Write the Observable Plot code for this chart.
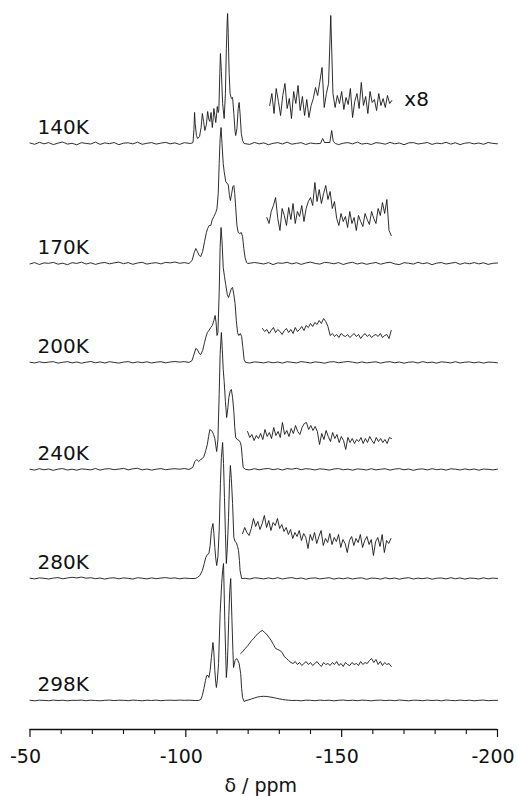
<!DOCTYPE html>
<html><head><meta charset="utf-8">
<script src="https://cdn.jsdelivr.net/npm/d3@7"></script>
<script src="https://cdn.jsdelivr.net/npm/@observablehq/plot@0.6"></script>
<style>body{margin:0;background:#fff} svg{display:block}</style>
</head><body><div id="chart"></div>
<script>
// Temperatures and stacking offsets (intensity units above the axis)
const temps = ["140K","170K","200K","240K","280K","298K"];
const offsets = [586, 466, 367, 260, 151, 29];
const majorTicks = [-50, -100, -150, -200];
const minorTicks = [-60, -70, -80, -90, -110, -120, -130, -140, -160, -170, -180, -190];
const axisLabel = "δ / ppm";
const gainLabel = "x8";

// Main resonance region, [ppm, intensity]
const peaks140 = [[-101.6,0],[-102.3,1],[-102.6,14],[-102.8,31],[-103.0,20],[-103.4,8],[-103.8,5],[-104.4,7],[-104.9,16],[-105.3,30],[-105.7,22],[-106.1,13],[-106.6,19],[-107.0,32],[-107.4,24],[-107.7,22],[-108.1,31],[-108.5,16],[-108.8,26],[-109.0,35],[-109.3,28],[-109.6,21],[-109.9,30],[-110.1,37],[-110.4,31],[-110.6,34],[-110.9,70],[-111.1,90],[-111.4,72],[-111.8,40],[-112.3,25],[-112.7,50],[-113.0,95],[-113.3,125],[-113.4,130],[-113.6,110],[-113.9,70],[-114.2,50],[-114.6,45],[-115.0,46],[-115.4,30],[-115.8,12],[-116.0,8],[-116.4,15],[-116.8,35],[-117.1,41],[-117.4,30],[-117.8,10],[-118.2,3],[-118.7,0]];
const extra140 = [[-143.2,0],[-143.9,5],[-144.5,1],[-146.2,1],[-146.8,13],[-147.3,2],[-148,0]];
const peaks170 = [[-101.0,0],[-102.0,3],[-102.7,11],[-103.2,15],[-103.7,12],[-104.3,8],[-104.8,7],[-105.4,12],[-106.0,22],[-106.6,31],[-107.0,35],[-107.5,38],[-108.0,38],[-108.5,44],[-109.0,47],[-109.6,51],[-110.0,55],[-110.4,70],[-110.7,100],[-111.0,125],[-111.3,136],[-111.6,120],[-112.0,100],[-112.3,92],[-112.8,82],[-113.2,80],[-113.6,79],[-114.0,68],[-114.3,63],[-114.7,70],[-115.1,77],[-115.4,78],[-115.7,70],[-116.0,56],[-116.4,38],[-116.8,31],[-117.3,30],[-117.8,31],[-118.2,27],[-118.6,15],[-119.0,6],[-119.5,1],[-119.9,0]];
const peaks200 = [[-101.0,0],[-102.0,2],[-102.6,8],[-103.2,14],[-103.7,13],[-104.3,9],[-104.8,8],[-105.4,12],[-106.0,20],[-106.4,25],[-106.9,30],[-107.4,32],[-108.0,35],[-108.5,37],[-109.0,42],[-109.4,47],[-109.7,40],[-110.0,27],[-110.3,30],[-110.7,70],[-111.0,115],[-111.3,135],[-111.6,122],[-112.0,95],[-112.4,86],[-112.8,78],[-113.3,68],[-113.7,65],[-114.2,70],[-114.6,74],[-115.0,75],[-115.4,68],[-115.8,59],[-116.2,42],[-116.6,30],[-117.0,27],[-117.5,29],[-117.9,26],[-118.3,15],[-118.7,3],[-119.2,0]];
const peaks240 = [[-101.0,0],[-102.2,2],[-102.9,8],[-103.5,10],[-104.1,8],[-104.8,10],[-105.3,11],[-105.8,13],[-106.4,19],[-106.9,25],[-107.3,33],[-107.7,40],[-108.1,39],[-108.5,38],[-108.9,35],[-109.3,31],[-109.6,24],[-109.9,18],[-110.3,30],[-110.7,75],[-111.0,115],[-111.4,137],[-111.7,120],[-112.0,100],[-112.3,88],[-112.7,68],[-113.1,52],[-113.5,62],[-113.8,72],[-114.2,78],[-114.6,80],[-115.0,72],[-115.4,58],[-115.7,42],[-116.0,32],[-116.5,30],[-117.1,29],[-117.5,27],[-117.8,23],[-118.1,12],[-118.4,2],[-119.2,0]];
const peaks280 = [[-101.5,0],[-103.0,0],[-103.7,1],[-104.5,3],[-105.3,8],[-105.9,15],[-106.4,21],[-106.9,24],[-107.4,25],[-107.8,33],[-108.2,48],[-108.7,55],[-109.0,45],[-109.3,31],[-109.6,20],[-109.9,13],[-110.3,22],[-110.7,48],[-111.1,95],[-111.4,121],[-111.8,136],[-112.1,115],[-112.4,81],[-112.7,45],[-113.0,15],[-113.3,30],[-113.7,61],[-114.0,95],[-114.3,113],[-114.6,100],[-115.0,75],[-115.4,41],[-115.8,37],[-116.2,36],[-116.6,32],[-116.9,28],[-117.2,18],[-117.4,8],[-117.9,0]];
const peaks298 = [[-103.0,0],[-104.0,0],[-104.8,1],[-105.3,5],[-105.8,12],[-106.3,20],[-106.7,25],[-107.1,25],[-107.4,23],[-107.8,30],[-108.2,43],[-108.7,58],[-109.0,48],[-109.3,30],[-109.6,18],[-109.8,13],[-110.1,20],[-110.5,37],[-111.0,87],[-111.5,117],[-111.8,130],[-112.1,137],[-112.5,80],[-112.8,45],[-113.0,23],[-113.3,35],[-113.5,53],[-113.8,85],[-114.1,110],[-114.4,122],[-114.8,80],[-115.1,50],[-115.3,33],[-115.8,40],[-116.3,42],[-116.7,40],[-117.1,37],[-117.6,27],[-117.9,12],[-118.2,3],[-118.7,-1],[-119.3,0],[-120,0.5],[-121,1.5],[-122,2.5],[-123,3.5],[-124,4],[-125,4.2],[-126,4],[-127,3.5],[-128,3],[-129,2.3],[-130,1.6],[-131,1],[-132,0.6],[-133,0.3],[-134,0]];

// Baseline noise, sampled every 1.5 ppm: left from -50, right from -119
const noiseStep = 1.5, leftStart = -50, rightStart = -119;
const left140 = [0.5,-0.8,1.2,-0.3,0.9,-1.1,0.4,1.5,-0.6,0.2,-1.3,0.8,0.1,-0.5,1.4,-0.9,0.6,-0.2,1.0,-1.2,0.3,0.7,-0.4,1.3,-0.8,0.2,0.9,-0.6,0.4,1.1,-0.3,0.6,-0.9,0.8,0.2];
const right140 = [0.3,-0.9,1.1,-0.4,0.6,-1.2,0.2,0.9,-0.5,1.3,-0.7,0.1,0.8,-1.0,0.5,-0.2,1.2,-0.8,0.4,0.7,-1.1,0.3,0.9,-0.4,1.4,-0.6,0.2,-1.0,0.8,0.3,-0.7,1.1,-0.3,0.5,-1.2,0.6,0.9,-0.5,0.2,1.0,-0.9,0.4,-0.2,1.2,-0.6,0.7,-1.1,0.3,0.8,-0.4,0.5,-0.8,1.0,0.1,-0.3];
const left170 = [-0.4,0.9,-1.0,0.6,0.2,1.1,-0.7,0.3,-1.2,0.8,0.1,1.3,-0.5,0.7,-0.9,0.4,1.0,-0.3,0.6,1.4,-0.2,0.9,-0.8,0.5,1.2,-0.6,0.3,0.8,-0.4,1.1,0.6,1.5,0.2,0.9,1.8];
const right170 = [0.4,-0.8,1.0,0.3,-0.5,0.9,-1.1,0.6,0.2,1.2,-0.4,0.8,-0.9,0.5,1.4,0.1,-0.6,1.1,0.7,-0.3,0.9,-1.0,0.4,1.2,-0.5,0.6,-0.8,0.2,1.0,-0.7,0.5,1.3,-0.4,-1.1,0.8,0.3,-0.6,1.2,-0.2,0.7,-1.2,0.4,0.9,-0.5,0.3,1.1,-0.8,0.6,-0.3,0.9,-0.4,0.7,-0.9,0.2,0.5];
const left200 = [0.3,-0.5,0.7,-0.2,0.4,0.8,-0.6,0.2,0.9,-0.4,0.5,-0.7,0.3,1.0,-0.3,0.6,-0.5,0.8,0.1,-0.6,0.4,0.9,-0.4,0.6,-0.2,0.7,-0.5,0.3,0.8,-0.3,0.5,1.0,0.4,0.9,1.3];
const right200 = [0.4,-0.5,0.6,0.2,-0.4,0.7,-0.3,0.5,-0.6,0.8,0.2,-0.4,0.9,0.3,-0.5,0.6,0.1,-0.7,0.5,0.8,-0.3,0.4,1.0,0.3,-0.5,0.6,-0.4,0.2,0.7,-0.6,0.4,0.8,-0.3,0.5,-0.7,0.3,0.6,-0.5,0.9,-0.2,0.4,-0.6,0.7,0.2,-0.4,0.8,-0.5,0.3,0.6,-0.3,0.5,-0.6,0.4,0.2,-0.3];
const left240 = [0.2,-0.6,0.8,-0.3,0.5,-0.8,0.4,0.9,-0.5,0.3,-0.7,0.6,0.2,-0.4,1.0,-0.6,0.5,0.8,-0.2,0.4,1.1,-0.3,0.7,1.2,-0.4,0.5,-0.6,0.3,0.9,-0.2,0.4,0.8,0.3,1.0,1.5];
const right240 = [0.5,-0.4,0.8,-0.3,0.6,1.0,-0.2,0.7,-0.5,0.9,0.3,1.2,-0.2,0.8,0.4,-0.5,0.7,0.2,-0.6,0.5,0.9,-0.3,0.4,-0.7,0.6,0.2,-0.5,0.8,-0.4,0.3,0.7,-0.6,0.4,0.9,-0.3,0.5,-0.8,0.3,0.6,-0.4,0.8,-0.2,0.4,-0.6,0.7,0.3,-0.5,0.6,-0.3,0.5,-0.7,0.4,0.2,-0.4,0.3];
const left280 = [0.3,-0.4,0.6,0.2,-0.5,0.4,0.9,-0.3,0.5,1.2,0.6,1.4,0.3,0.8,-0.2,0.5,-0.6,0.4,0.7,-0.3,0.6,0.2,-0.5,0.8,0.3,-0.4,0.6,-0.2,0.5,0.9,0.2,0.6,-0.3,0.4,0.8];
const right280 = [0.2,-0.5,0.7,0.3,-0.4,0.6,-0.3,0.8,-0.5,0.4,0.9,-0.2,0.5,-0.7,0.3,0.6,-0.4,0.2,0.8,-0.6,0.4,-0.3,0.7,-0.5,0.3,0.6,-0.8,0.4,0.2,-0.6,0.7,-0.3,0.5,-0.7,0.3,0.8,-0.5,0.4,-0.2,0.6,-0.7,0.3,0.5,-0.4,0.8,-0.3,0.6,-0.6,0.4,0.2,-0.5,0.7,-0.3,0.4,0.1];
const left298 = [0.2,-0.3,0.3,0.1,-0.2,0.4,-0.1,0.3,-0.3,0.2,0.1,0.4,-0.2,0.3,0.0,-0.3,0.2,0.4,-0.1,0.3,0.2,-0.2,0.4,0.1,-0.3,0.3,0.0,0.4,-0.2,0.2,0.3,0.1,0.4,0.2,0.3];
const right298 = [0.3,-0.2,0.4,0.1,-0.3,0.2,0.4,-0.2,0.3,-0.1,0.4,0.1,-0.3,0.3,0.2,-0.2,0.4,0.0,0.3,-0.3,0.2,0.5,-0.1,0.3,-0.2,0.4,0.1,-0.3,0.2,0.4,-0.1,0.3,-0.2,0.5,0.1,-0.3,0.3,0.2,-0.2,0.4,0.0,0.3,-0.3,0.5,0.1,-0.2,0.4,-0.1,0.3,-0.3,0.2,0.4,-0.2,0.1,0.2];

// x8 expanded insets, sampled every 0.7 ppm from insetStart
const insetStep = 0.7;
const insetStart = [-126.9, -126.0, -124.6, -119.8, -118.2, -117.6];
const inset140 = [38,50,30,55,42,28,48,60,35,45,25,52,40,58,33,47,28,44,26,38,45,56,48,62,76,36,50,60,128,50,36,48,40,52,34,46,39,55,26,42,50,35,61,38,47,30,52,41,44,33,50,38,45,36,48,40,43];
const inset170 = [46,40,52,58,66,45,33,55,48,38,56,44,60,40,52,47,58,42,55,62,66,58,81,62,74,60,70,78,64,72,55,62,45,38,50,42,47,36,52,40,46,33,48,42,37,50,44,39,52,45,40,55,48,61,50,64,33,28];
const inset200 = [34,31,33,29,32,35,30,33,31,28,32,34,30,33,29,35,31,33,36,32,37,35,39,36,40,38,42,39,44,41,36,27,29,26,28,25,29,27,26,28,25,27,29,26,28,24,27,29,26,28,25,27,28,26,29,25,27,28,24,32];
const inset240 = [38,32,35,29,34,31,36,30,40,33,37,31,42,34,38,32,47,35,39,33,41,36,44,38,35,42,46,47,40,44,39,43,38,25,36,30,39,33,28,37,31,35,27,33,29,20,32,27,31,26,30,28,32,26,31,27,33,29,26,32,28,31,27,30,26,32,31];
const inset280 = [45,51,46,43,50,60,52,57,49,55,63,51,58,48,56,53,60,50,54,47,51,44,49,40,46,42,48,38,45,41,30,44,38,46,35,42,48,33,40,36,45,34,41,37,44,31,39,35,26,38,42,33,40,36,44,31,38,42,34,39,23,37,41,32,44,26,38,35,40];
const inset298 = [47,49,52,54,57,60,62,65,67,69,70,68,66,63,60,56,52,51,50,48,44,42,40,38,37,39,36,38,35,37,39,36,38,35,37,39,36,34,38,36,37,35,38,36,39,35,37,34,38,36,35,38,36,37,35,39,36,38,37,40,42,38,41,36,39,35,38,36,37,34];

const peaks = [peaks140, peaks170, peaks200, peaks240, peaks280, peaks298];
const extras = [extra140, [], [], [], [], []];
const noiseLeft = [left140, left170, left200, left240, left280, left298];
const noiseRight = [right140, right170, right200, right240, right280, right298];
const insets = [inset140, inset170, inset200, inset240, inset280, inset298];

// Assemble line rows
const rows = [];
temps.forEach((t, k) => {
  const shape = peaks[k].concat(extras[k]);
  const noise = noiseLeft[k].map((v, i) => [leftStart - i * noiseStep, v])
    .concat(noiseRight[k].map((v, i) => [rightStart - i * noiseStep, v]))
    .filter(([p]) => d3.min(shape, s => Math.abs(s[0] - p)) > 0.8);
  const pts = shape.concat(noise).sort((a, b) => b[0] - a[0]);
  pts.forEach(([p, h]) => rows.push({id: t, ppm: p, v: offsets[k] + h}));
  insets[k].forEach((h, i) => rows.push({id: t + "x8", ppm: insetStart[k] - i * insetStep, v: offsets[k] + h}));
});

const labelRows = temps.map((t, k) => ({t, y: offsets[k]}));
const inset140End = insetStart[0] - (inset140.length - 1) * insetStep;

const plot = Plot.plot({
  width: 517, height: 796,
  marginLeft: 29.5, marginRight: 20, marginTop: 0, marginBottom: 67,
  style: {fontFamily: "DejaVu Sans", background: "#fff", color: "#111"},
  x: {domain: [-50, -200], axis: null},
  y: {domain: [0, 729], axis: null},
  marks: [
    Plot.line(rows, {x: "ppm", y: "v", z: "id", stroke: "#161616", strokeWidth: 0.9, curve: "linear"}),
    Plot.ruleY([0], {stroke: "#111", strokeWidth: 1.3}),
    Plot.axisX({ticks: majorTicks, tickSize: 8, tickFormat: () => "", label: null, strokeWidth: 1.2}),
    Plot.axisX({ticks: majorTicks, tickSize: 0, tickPadding: 20, dx: -4.5, tickFormat: d => String(d), fontSize: 19, label: null}),
    Plot.axisX({ticks: minorTicks, tickSize: 5, tickFormat: () => "", label: null, strokeWidth: 1.1}),
    Plot.text(labelRows, {x: () => -50, y: "y", text: "t", dx: 7.5, dy: -9.5, lineAnchor: "bottom", textAnchor: "start", fontSize: 20, fill: "#111"}),
    Plot.text([gainLabel], {x: () => inset140End, y: () => offsets[0], dx: 12.5, dy: -38, lineAnchor: "bottom", textAnchor: "start", fontSize: 20, fill: "#111"}),
    Plot.text([axisLabel], {frameAnchor: "bottom", dx: -3, dy: 62, lineAnchor: "bottom", fontSize: 19, fill: "#111"})
  ]
});
document.getElementById("chart").append(plot);
</script>
</body></html>
